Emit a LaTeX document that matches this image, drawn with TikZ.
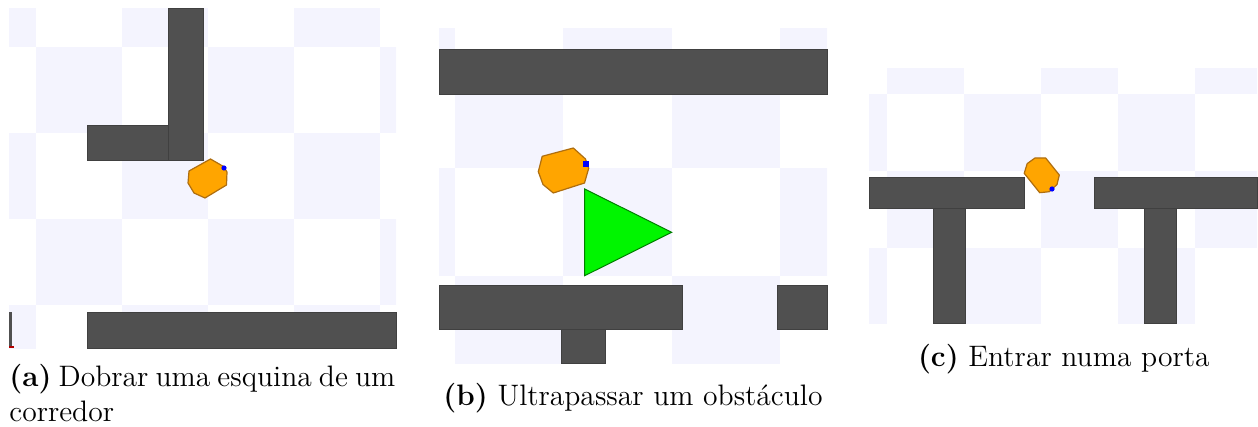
\documentclass[tikz,border=0pt]{standalone}
\usepackage{tikz}
\usetikzlibrary{positioning}
\usepackage{xcolor}
\definecolor{checkblue}{RGB}{244,244,254}
\definecolor{wallgray}{RGB}{80,80,80}
\definecolor{robotorange}{RGB}{255,165,0}
\definecolor{robotedge}{RGB}{175,110,15}
\definecolor{obstgreen}{RGB}{0,245,0}

\begin{document}
\begin{tikzpicture}[x=0.5pt, y=-0.5pt,
  wall/.style={draw=black!75, fill=wallgray, line width=0.5pt},
  robot/.style={draw=robotedge, fill=robotorange, line width=0.6pt, line join=round},
  sensor/.style={fill=blue},
  checkcell/.style={fill=checkblue},
  obstacle/.style={draw=green!50!black, fill=obstgreen, line width=0.5pt},
  capt/.style={font=\fontsize{14.8}{17.5}\selectfont, inner sep=0pt}
]
  \useasboundingbox (0,0) rectangle (1258,427);

  % (a) corner of a corridor
  \begin{scope}
    \clip (9,9) rectangle (396,348);
    \foreach \i in {0,...,5}
      \foreach \j in {0,...,4} {
        \pgfmathtruncatemacro\sumij{\i+\j}
        \ifodd\sumij\else
          \fill[checkcell] ({-50+86*\i},{-38.7+86*\j}) rectangle ++(86,86);
        \fi
      }
  \end{scope}
  \draw[wall] (87,126) rectangle (168,160.7);
  \draw[wall] (168,9) rectangle (203,160.7);
  \draw[wall] (87,312) rectangle (396,348);
  \fill[wallgray] (9,312) rectangle (12,348);
  \fill[red!70!black] (9,345.5) rectangle (14,348);
  \draw[robot] (210.5,159) -- (223.5,166.5) -- (227,172) -- (226.5,185) -- (205,198)
    -- (194,193) -- (188,183) -- (189,171) -- cycle;
  \fill[sensor] (224,168) circle (2.6);

  % (b) overtaking an obstacle
  \begin{scope}
    \clip (439,28.3) rectangle (827,363.3);
    \foreach \i in {0,...,4}
      \foreach \j in {0,...,3} {
        \pgfmathtruncatemacro\sumij{\i+\j}
        \ifodd\sumij\else
          \fill[checkcell] ({346.7+108.3*\i},{-49+108.3*\j}) rectangle ++(108.3,108.3);
        \fi
      }
  \end{scope}
  \draw[wall] (439,50) rectangle (827,94.3);
  \draw[wall] (439,285.7) rectangle (682.3,329.3);
  \draw[wall] (777.3,285.7) rectangle (827,329.3);
  \draw[wall] (561,329.3) rectangle (605,363.3);
  \draw[obstacle] (584.7,189) -- (671.7,232.3) -- (584.7,275.7) -- cycle;
  \draw[robot] (573.3,148) -- (585.5,159) -- (588.7,168.3) -- (584.5,183) -- (553.3,193)
    -- (543,184.5) -- (538.3,171.7) -- (542.2,156.3) -- cycle;
  \fill[sensor] (583.3,161.3) rectangle (588.7,166.7);

  % (c) entering a door
  \begin{scope}
    \clip (869,69) rectangle (1257,323.3);
    \foreach \i in {0,...,5}
      \foreach \j in {0,...,3} {
        \pgfmathtruncatemacro\sumij{\i+\j}
        \ifodd\sumij
          \fill[checkcell] ({809.7+77*\i},{17+77*\j}) rectangle ++(77,77);
        \fi
      }
  \end{scope}
  \draw[wall] (933.7,208.7) rectangle (965,323.3);
  \draw[wall] (869,177.3) rectangle (1024.3,208.7);
  \draw[wall] (1144.3,208.7) rectangle (1176,323.3);
  \draw[wall] (1094,177.3) rectangle (1257,208.7);
  \draw[robot] (1035,158) -- (1045.7,158) -- (1059.3,175) -- (1057,184.5) -- (1049.3,191.7)
    -- (1039.7,192.7) -- (1024.2,173.3) -- (1027.2,163.6) -- cycle;
  \fill[sensor] (1052,189) circle (2.6);

  % captions
  \node[capt, anchor=base west] (capa) at (9,386.7)
    {\hbox to 193pt{\textbf{(a)} Dobrar uma esquina de um}};
  \node[capt, anchor=base west] (capa2) at (9,421.7) {corredor};
  \node[capt, anchor=base] (capb) at (633,405) {\textbf{(b)} Ultrapassar um obstáculo};
  \node[capt, anchor=base] (capc) at (1063.8,366) {\textbf{(c)} Entrar numa porta};
\end{tikzpicture}
\end{document}
